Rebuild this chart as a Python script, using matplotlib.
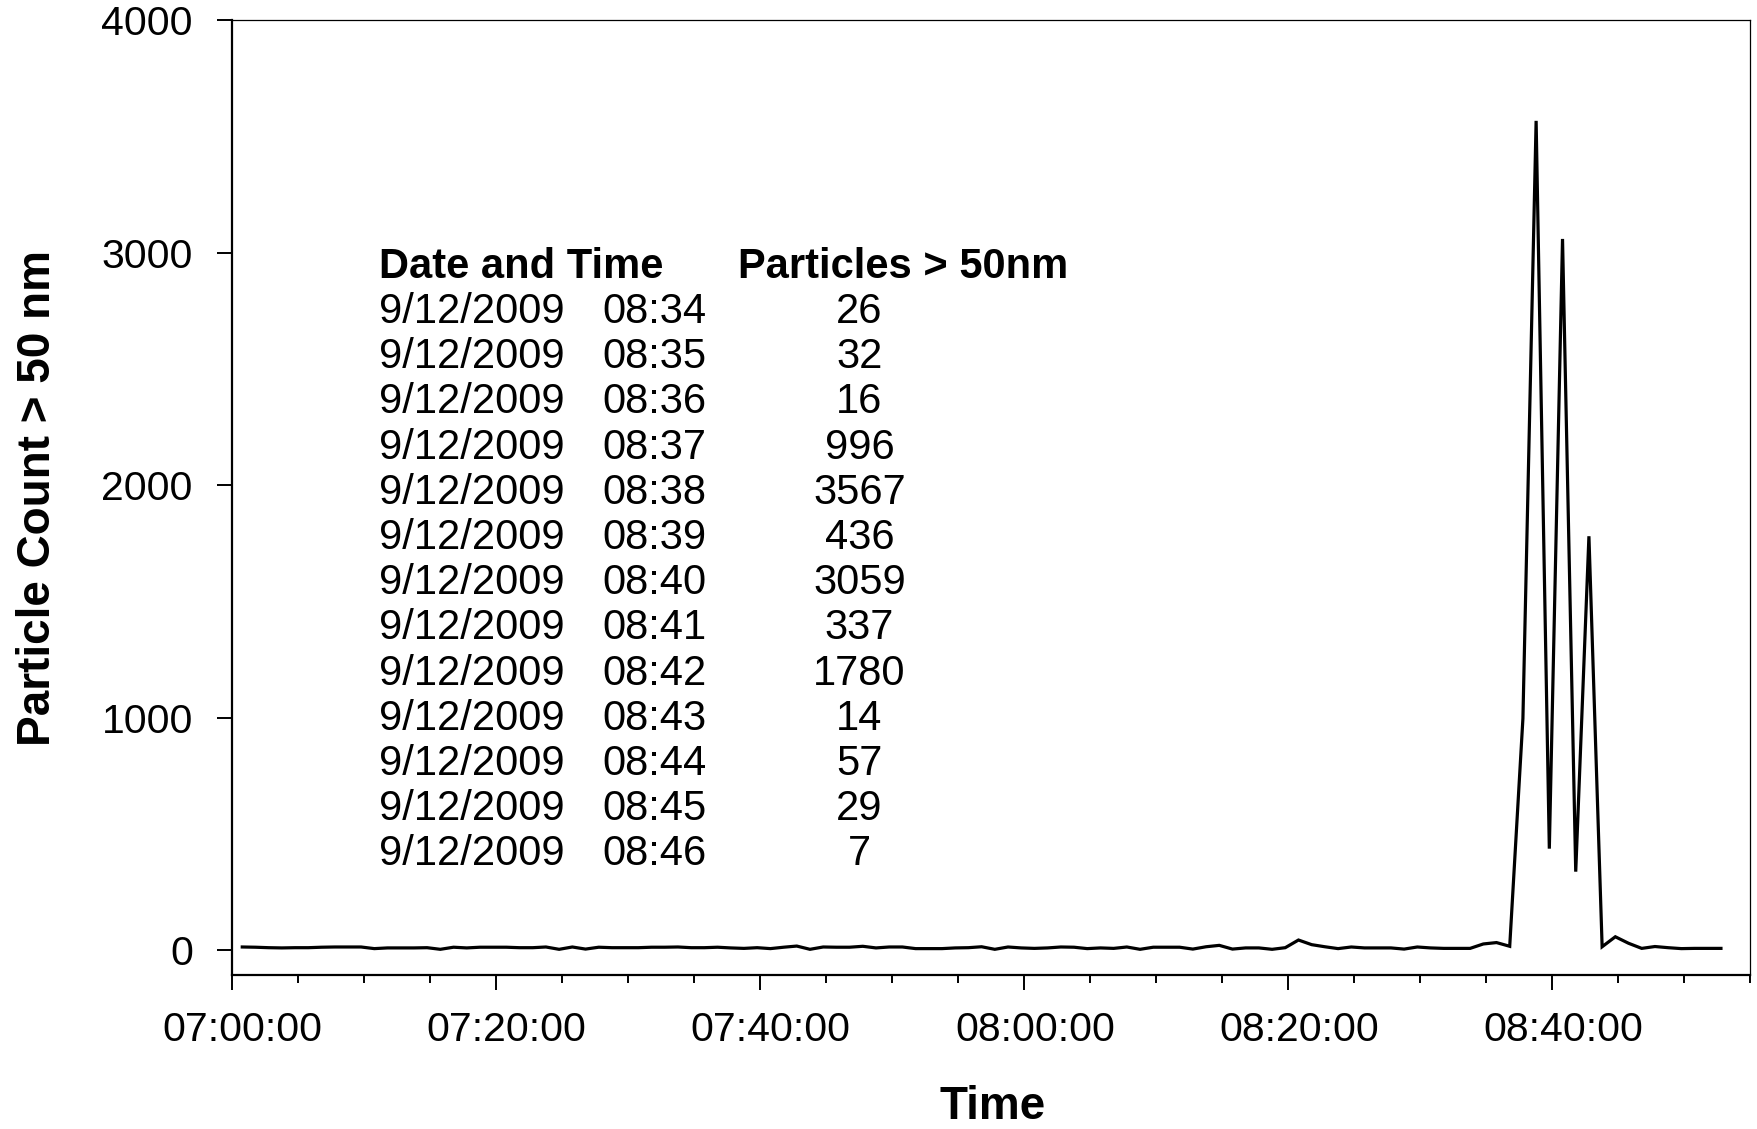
import datetime as dt

import matplotlib
matplotlib.use("Agg")
import matplotlib.pyplot as plt
import matplotlib.dates as mdates
from matplotlib.transforms import ScaledTranslation

plt.rcParams['font.family'] = ['Liberation Sans', 'DejaVu Sans']

# One-minute particle counts (> 50 nm), first sample logged at 07:00:48
first_sample = dt.datetime(2009, 12, 9, 7, 0, 48)
counts = [
    13, 12, 10, 9, 10, 10, 12, 13, 13, 13, 6, 9, 9, 9, 10, 3, 12, 9, 12,
    12, 12, 10, 10, 13, 3, 13, 4, 12, 10, 10, 10, 12, 12, 13, 10, 10, 12, 9,
    7, 10, 6, 12, 17, 3, 13, 12, 12, 16, 9, 13, 13, 6, 6, 6, 9, 10, 14, 3,
    13, 9, 7, 9, 13, 12, 6, 9, 7, 13, 3, 12, 12, 12, 4, 14, 20, 4, 9,
    9, 3, 10, 43, 23, 14, 6, 13, 9, 9, 9, 4, 13, 9, 7, 7, 7,
    26, 32, 16, 996, 3567, 436, 3059, 337, 1780, 14, 57, 29, 7,
    15, 10, 6, 7, 7, 7,
]
times = [first_sample + dt.timedelta(minutes=i) for i in range(len(counts))]

# Inset listing of the event window
table_date = "9/12/2009"
table_window = ("08:34", "08:46")
table_headers = ["Date and Time", "Particles > 50nm"]

y_ticks = [0, 1000, 2000, 3000, 4000]
x_start = dt.datetime(2009, 12, 9, 7, 0)
x_end = dt.datetime(2009, 12, 9, 8, 55)

W, H = 1757, 1129
fig = plt.figure(figsize=(W / 100, H / 100), dpi=100)
fig.patch.set_facecolor("white")

left, right, top, bottom = 231.7, 1750.0, 20.2, 975.0
ax = fig.add_axes([left / W, 1 - bottom / H, (right - left) / W, (bottom - top) / H])

ax.plot(times, counts, color="black", lw=2.3, solid_joinstyle="miter")

ax.set_xlim(x_start, x_end)
ax.set_ylim(-107.5, 4000)
ax.set_yticks(y_ticks)
ax.set_yticklabels([str(v) for v in y_ticks])

ax.xaxis.set_major_locator(mdates.MinuteLocator(byminute=[0, 20, 40]))
ax.xaxis.set_minor_locator(mdates.MinuteLocator(byminute=range(0, 60, 5)))
ax.xaxis.set_major_formatter(mdates.DateFormatter("%H:%M:%S"))

ax.tick_params(axis="both", which="major", direction="out", length=11,
               width=1.4, labelsize=29.5, colors="black")
ax.tick_params(axis="y", which="major", pad=17)
ax.tick_params(axis="x", which="major", pad=15)
ax.tick_params(axis="x", which="minor", direction="out", length=6, width=1.4)
ax.tick_params(axis="y", which="minor", left=False)

for side in ("left", "bottom"):
    ax.spines[side].set_linewidth(1.6)
for side in ("top", "right"):
    ax.spines[side].set_linewidth(0.9)

# date labels sit slightly right of their ticks
shift = ScaledTranslation(11 / 100, 0, fig.dpi_scale_trans)
ax.get_xticks()
for tick in ax.xaxis.get_major_ticks():
    tick.label1.set_transform(tick.label1.get_transform() + shift)

fig.text(38 / W, 1 - 497.6 / H, "Particle Count > 50 nm", rotation=90,
         ha="center", va="center", fontsize=33, fontweight="bold")
fig.text(993 / W, 1 - 1119 / H, "Time", ha="center", va="baseline",
         fontsize=33, fontweight="bold")

# event table
col_date, col_time, col_val, col_head2 = 379 / W, 602 / W, 859.5 / W, 738 / W
head_base = 1 - 278 / H
fig.text(col_date, head_base, table_headers[0], ha="left", va="baseline",
         fontsize=30, fontweight="bold")
fig.text(col_head2, head_base, table_headers[1], ha="left", va="baseline",
         fontsize=30, fontweight="bold")

row = 0
for t, v in zip(times, counts):
    label = t.strftime("%H:%M")
    if table_window[0] <= label <= table_window[1]:
        yb = 1 - (323 + 45.2 * row) / H
        fig.text(col_date, yb, table_date, ha="left", va="baseline", fontsize=30)
        fig.text(col_time, yb, label, ha="left", va="baseline", fontsize=30)
        fig.text(col_val, yb, str(v), ha="center", va="baseline", fontsize=30)
        row += 1

fig.savefig("out.png", dpi=100, facecolor="white")
